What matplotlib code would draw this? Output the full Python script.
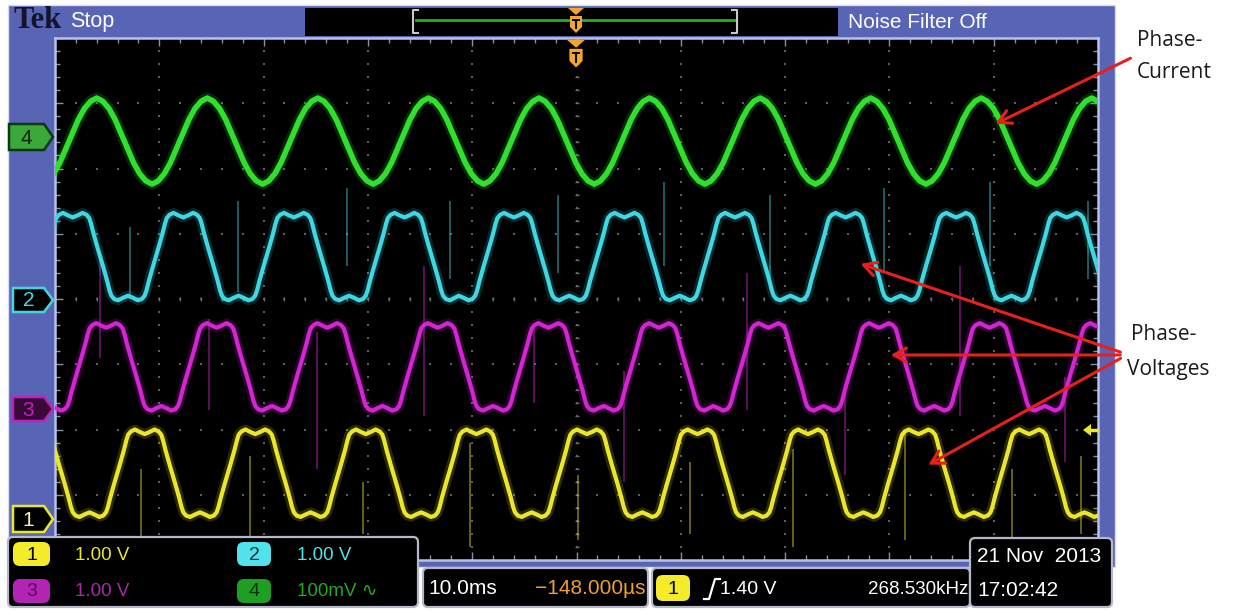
import matplotlib
matplotlib.use("Agg")
import matplotlib.pyplot as plt
from matplotlib.patches import Rectangle, Polygon, FancyBboxPatch
import numpy as np

# scope settings
TIME_PER_DIV_MS = 10.0
N_HDIV = 10
N_VDIV = 8
PERIOD_MS = 10.59

# one period of a phase voltage: degrees from top centre -> volts above ground
v_phase_deg = [-180, -165, -148, -135, -126, -120, -112, -100, -90, -80, -68, -60, -54, -45, -32, -15,
               0, 15, 32, 45, 54, 60, 68, 80, 90, 100, 112, 120, 126, 135, 148, 165, 180]
v_level = [0.05, 0.02, -0.02, 0.00, 0.05, 0.13, 0.28, 0.48, 0.64, 0.80, 1.00, 1.15, 1.24, 1.29, 1.32, 1.28,
           1.25, 1.28, 1.32, 1.29, 1.24, 1.15, 1.00, 0.80, 0.64, 0.48, 0.28, 0.13, 0.05, 0.00, -0.02, 0.02, 0.05]

# one period of the phase current: degrees from peak -> mV
i_phase_deg = [-180, -160, -140, -120, -100, -80, -60, -40, -20, 0, 20, 40, 60, 80, 100, 120, 140, 160, 180]
i_level_mv = [-72, -67, -56, -39, -17, 5, 27, 44, 55, 60, 55, 44, 27, 5, -17, -39, -56, -67, -72]

# cycle centres on screen (ms)
ch1_centres = [-2.0, 8.6, 19.2, 29.8, 40.4, 51.0, 61.6, 72.2, 82.8, 93.4, 104.0]
ch2_centres = [1.7, 12.3, 22.9, 33.5, 44.0, 54.6, 65.2, 75.8, 86.4, 97.0, 107.6]
ch3_centres = [-5.7, 4.9, 15.5, 26.1, 36.7, 47.3, 57.9, 68.4, 79.0, 89.6, 100.2]
ch4_centres = [4.0, 14.6, 25.2, 35.8, 46.4, 57.0, 67.6, 78.2, 88.8, 99.4]

# ground marker positions (div) and colours
ground_div = {"1": -3.32, "2": 0.0, "3": -1.69, "4": 2.48}
colors = {"1": "#ece628", "2": "#3fd8e2", "3": "#d424d4", "4": "#2fe02c"}

# switching spikes: time (ms), low / high (div)
ch2_spike_t = [7.2, 17.5, 28.0, 37.9, 48.2, 58.4, 68.6, 79.5, 89.6, 99.0]
ch2_spike_lo = [0.0, 0.1, 0.5, 0.3, 0.4, 0.5, 0.3, 0.4, 0.5, 0.3]
ch2_spike_hi = [1.1, 1.5, 1.7, 1.5, 1.6, 1.8, 1.6, 1.7, 1.8, 1.5]
ch3_spike_t = [4.3, 14.8, 25.1, 35.4, 45.9, 54.6, 66.3, 75.7, 86.8, 96.8]
ch3_spike_lo = [-0.9, -1.7, -2.6, -1.8, -1.6, -2.8, -1.7, -2.7, -1.8, -2.5]
ch3_spike_hi = [0.7, -0.3, -0.5, 0.5, -0.4, -1.1, 0.4, -1.3, 0.5, -1.2]
ch1_spike_t = [8.2, 18.7, 29.5, 39.8, 50.1, 60.9, 70.8, 81.5, 91.8, 98.4]
ch1_spike_lo = [-3.7, -3.8, -3.6, -3.8, -3.7, -3.6, -3.8, -3.7, -3.8, -3.6]
ch1_spike_hi = [-2.6, -2.4, -2.8, -2.2, -2.7, -2.5, -2.3, -2.0, -2.6, -2.4]

BLUE = "#5864b4"
W, H = 1236, 613
SCOPE_FONT = ["Liberation Sans", "DejaVu Sans"]


def build(centres, phase_deg, level):
    t, y = [], []
    for c in centres:
        for p, l in zip(phase_deg[:-1], level[:-1]):
            t.append(c + p / 360.0 * PERIOD_MS)
            y.append(l)
    return np.array(t), np.array(y)


def trace(ax, t, y, color, lw):
    ax.plot(t, y, color=color, lw=lw + 4, alpha=0.18, solid_capstyle="round", zorder=3)
    ax.plot(t, y, color=color, lw=lw, solid_joinstyle="round", zorder=4)


def pentagon(ov, x0, x1, yc, h, face, edge, label, tcolor):
    pts = [(x0, yc - h / 2), (x1 - 9, yc - h / 2), (x1, yc), (x1 - 9, yc + h / 2), (x0, yc + h / 2)]
    ov.add_patch(Polygon(pts, closed=True, facecolor=face, edgecolor=edge, lw=1.8, zorder=5))
    ov.text((x0 + x1 - 9) / 2, yc + 1, label, color=tcolor, fontsize=15, ha="center", va="center",
            family=SCOPE_FONT, zorder=6)


def badge(ov, x0, y0, w, h, face, label, tcolor):
    ov.add_patch(FancyBboxPatch((x0, y0), w, h, boxstyle="round,pad=0,rounding_size=7",
                                facecolor=face, edgecolor="none", zorder=5))
    ov.text(x0 + w / 2, y0 + h / 2 + 1, label, color=tcolor, fontsize=14, ha="center", va="center",
            family=SCOPE_FONT, zorder=6)


def readout(ov, x, y, s, color, ha="left", size=13.5):
    ov.text(x, y, s, color=color, fontsize=size, family=SCOPE_FONT, ha=ha, va="center", zorder=6)


def panel(ov, x0, y0, x1, y1):
    ov.add_patch(FancyBboxPatch((x0, y0), x1 - x0, y1 - y0, boxstyle="round,pad=0,rounding_size=5",
                                facecolor="black", edgecolor="#b4b8c8", lw=1.6, zorder=4))


def trig_mark(ov, x, ytop, scale):
    ov.add_patch(Polygon([(x - 8 * scale, ytop), (x + 8 * scale, ytop), (x, ytop + 7 * scale)],
                         closed=True, facecolor="#f5a623", edgecolor="none", zorder=7))
    y = ytop + 8 * scale
    ov.add_patch(Polygon([(x - 6 * scale, y), (x + 6 * scale, y), (x + 6 * scale, y + 11 * scale),
                          (x, y + 17 * scale), (x - 6 * scale, y + 11 * scale)],
                         closed=True, facecolor="#f5a623", edgecolor="none", zorder=7))
    ov.plot([x - 3 * scale, x + 3 * scale], [y + 4 * scale, y + 4 * scale], color="black", lw=1.4, zorder=8)
    ov.plot([x, x], [y + 4 * scale, y + 12 * scale], color="black", lw=1.4, zorder=8)


fig = plt.figure(figsize=(W / 100, H / 100), dpi=100)
fig.patch.set_facecolor("white")

# background: bezel
bg = fig.add_axes([0, 0, 1, 1], zorder=0)
bg.set_xlim(0, W)
bg.set_ylim(H, 0)
bg.axis("off")
bg.add_patch(Rectangle((8, 5), 1107, 562, facecolor=BLUE, edgecolor="#d8dcf0", lw=1.0))
bg.add_patch(Rectangle((305, 8), 533, 28, facecolor="black", edgecolor="none"))
bg.text(13, 21, "Tek", color="#141428", fontsize=22, fontweight="bold", family="Liberation Serif",
        ha="left", va="center")
bg.text(70, 22, "Stop", color="white", fontsize=15.5, family=SCOPE_FONT, ha="left", va="center")
bg.text(848, 22, "Noise Filter Off", color="white", fontsize=15, family=SCOPE_FONT, ha="left", va="center")
bg.plot([416, 735], [20, 20], color="#22b022", lw=2)
bg.plot([418, 413, 413, 418], [10, 10, 33, 33], color="#c8c8c8", lw=1.5)
bg.plot([732, 737, 737, 732], [10, 10, 33, 33], color="#c8c8c8", lw=1.5)

# graticule
left, right, top, bottom = 55, 1098, 38, 560
ax = fig.add_axes([left / W, 1 - bottom / H, (right - left) / W, (bottom - top) / H], zorder=1)
ax.set_facecolor("black")
ax.set_xlim(0, N_HDIV * TIME_PER_DIV_MS)
ax.set_ylim(-N_VDIV / 2, N_VDIV / 2)
ax.set_xticks(np.arange(0, 101, TIME_PER_DIV_MS))
ax.set_xticks(np.arange(0, 101, TIME_PER_DIV_MS / 5), minor=True)
ax.set_yticks(np.arange(-4, 5, 1))
ax.set_yticks(np.arange(-4, 4.01, 0.2), minor=True)
ax.tick_params(which="both", direction="in", colors="#8a8fa8", top=True, right=True,
               labelbottom=False, labelleft=False)
ax.tick_params(which="major", length=6, width=1)
ax.tick_params(which="minor", length=3.5, width=1)
for s in ax.spines.values():
    s.set_color("#b6c2ea")
    s.set_linewidth(1.8)

# dotted grid
gx, gy = [], []
for xd in np.arange(10, 100, 10):
    for yd in np.arange(-4, 4.01, 0.2):
        gx.append(xd)
        gy.append(yd)
for yd in np.arange(-3, 4, 1):
    for xd in np.arange(0, 100.1, 2):
        gx.append(xd)
        gy.append(yd)
ax.scatter(gx, gy, s=2.5, color="#5e5e5e", marker="s", lw=0, zorder=1)
ax.scatter(np.full(41, 50.0), np.arange(-4, 4.01, 0.2), s=12, marker="_", color="#6a6a6a", lw=1, zorder=1)
ax.scatter(np.arange(0, 100.1, 2), np.zeros(51), s=12, marker="|", color="#6a6a6a", lw=1, zorder=1)

# spikes
ax.vlines(ch2_spike_t, ch2_spike_lo, ch2_spike_hi, color=colors["2"], lw=1.2, alpha=0.5, zorder=2)
ax.vlines(ch3_spike_t, ch3_spike_lo, ch3_spike_hi, color=colors["3"], lw=1.2, alpha=0.5, zorder=2)
ax.vlines(ch1_spike_t, ch1_spike_lo, ch1_spike_hi, color=colors["1"], lw=1.2, alpha=0.5, zorder=2)

# traces
t4, y4 = build(ch4_centres, i_phase_deg, i_level_mv)
trace(ax, t4, ground_div["4"] + y4 / 100.0, colors["4"], 4.0)
t2, y2 = build(ch2_centres, v_phase_deg, v_level)
trace(ax, t2, ground_div["2"] + y2, colors["2"], 3.0)
t3, y3 = build(ch3_centres, v_phase_deg, v_level)
trace(ax, t3, ground_div["3"] + y3, colors["3"], 3.0)
t1, y1 = build(ch1_centres, v_phase_deg, v_level)
trace(ax, t1, ground_div["1"] + y1, colors["1"], 3.0)

# overlay: markers, readouts, annotations
ov = fig.add_axes([0, 0, 1, 1], zorder=2)
ov.set_xlim(0, W)
ov.set_ylim(H, 0)
ov.axis("off")
ov.patch.set_alpha(0)

pentagon(ov, 9, 53, 137, 26, "#3aa83a", "#103810", "4", "#102010")
pentagon(ov, 13, 53, 300, 24, "black", colors["2"], "2", colors["2"])
pentagon(ov, 13, 53, 409, 24, "#3a0a36", "#c020c0", "3", "#c020c0")
pentagon(ov, 13, 53, 519, 26, "black", colors["1"], "1", "#f4f0b0")

trig_mark(ov, 576, 8, 1.0)
trig_mark(ov, 576, 40, 1.1)
ov.add_patch(Polygon([(1083, 430), (1091, 424), (1091, 436)], closed=True, facecolor=colors["1"],
                     edgecolor="none", zorder=5))
ov.plot([1089, 1097], [430, 430], color=colors["1"], lw=2.5, zorder=5)

# readout panels
panel(ov, 8, 537, 418, 607)
panel(ov, 423, 568, 648, 607)
panel(ov, 652, 568, 970, 607)
panel(ov, 970, 538, 1112, 607)

badge(ov, 13, 542, 37, 24, "#f4ec2a", "1", "black")
readout(ov, 75, 555, "1.00 V", "#ece628")
badge(ov, 237, 542, 34, 24, "#52e2ec", "2", "#103040")
readout(ov, 297, 555, "1.00 V", "#52e2ec")
badge(ov, 13, 579, 37, 24, "#b424b4", "3", "#501050")
readout(ov, 75, 591, "1.00 V", "#a82aa8")
badge(ov, 237, 579, 34, 24, "#1e9e22", "4", "#0a300a")
readout(ov, 297, 591, "100mV \u223f", "#22aa22")

readout(ov, 428, 589, "10.0ms", "white", size=15)
readout(ov, 645, 589, "\u2212148.000\u00b5s", "#f0a030", ha="right", size=15)

badge(ov, 656, 575, 34, 26, "#f4ec2a", "1", "black")
ov.plot([704, 709, 715, 720], [599, 599, 579, 579], color="white", lw=1.6, zorder=6)
readout(ov, 720, 589, "1.40 V", "white", size=14)
readout(ov, 968, 589, "268.530kHz", "white", ha="right")

readout(ov, 977, 557, "21 Nov  2013", "white", size=15)
readout(ov, 977, 590, "17:02:42", "white", size=15)

# annotations
ov.text(1137, 40, "Phase-", color="#1a1a1a", fontsize=15, family="Open Sans", va="center")
ov.text(1137, 73, "Current", color="#1a1a1a", fontsize=15, family="Open Sans", va="center")
ov.text(1131, 335, "Phase-", color="#1a1a1a", fontsize=15, family="Open Sans", va="center")
ov.text(1127, 370, "Voltages", color="#1a1a1a", fontsize=15, family="Open Sans", va="center")

arrow = dict(arrowstyle="->,head_length=0.9,head_width=0.5", color="#e8201c", lw=2.2)
ov.annotate("", xy=(993, 125), xytext=(1133, 57), arrowprops=arrow, zorder=9)
ov.annotate("", xy=(858, 263), xytext=(1123, 353), arrowprops=arrow, zorder=9)
ov.annotate("", xy=(888, 355), xytext=(1123, 355), arrowprops=arrow, zorder=9)
ov.annotate("", xy=(926, 466), xytext=(1123, 357), arrowprops=arrow, zorder=9)

fig.savefig("out.png", dpi=100, facecolor="white")
